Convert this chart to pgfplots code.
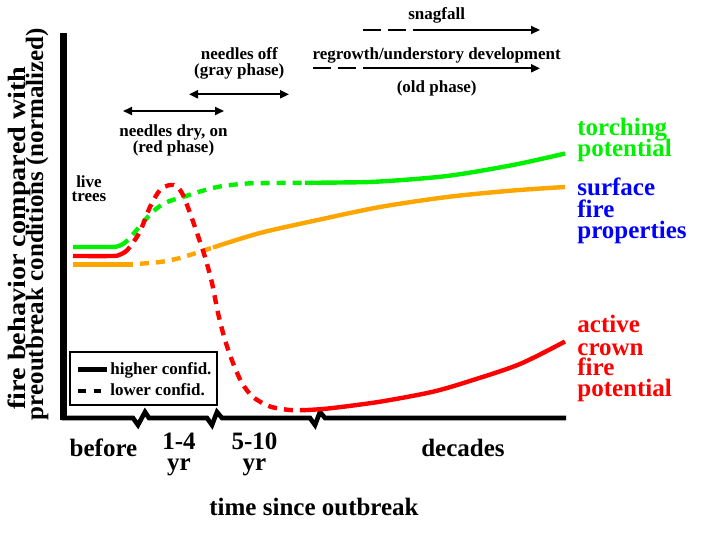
\documentclass[border=0pt]{standalone}
\usepackage{fontspec}
\setmainfont{Liberation Serif}
\usepackage{graphicx}
\usepackage{pgfplots}
\pgfplotsset{compat=1.18}
\usetikzlibrary{arrows.meta}
\definecolor{cgreen}{RGB}{0,240,0}
\definecolor{corange}{RGB}{255,165,0}
\definecolor{cred}{RGB}{255,0,0}
\definecolor{cblue}{RGB}{0,0,255}
\begin{document}
\begin{tikzpicture}[
 lbl/.style={font=\bfseries\fontsize{12.5}{14}\selectfont, inner sep=0pt},
 sml/.style={font=\bfseries\fontsize{8.5}{10}\selectfont, inner sep=0pt},
 ylab/.style={font=\bfseries\fontsize{12.5}{14}\selectfont, inner sep=0pt, rotate=90, anchor=base},
]
\begin{axis}[
 width=352.5pt, height=267pt, scale only axis,
 xmin=0, xmax=705, ymin=0, ymax=534, y dir=reverse,
 hide axis, clip=false,
 curve/.style={line width=2.2pt, smooth, line cap=butt},
 dsh/.style={dash pattern=on 4.5pt off 3.5pt},
 arr/.style={black, line width=1pt, -{Triangle[length=4.5pt,width=4pt]}},
 darr/.style={black, line width=1pt, {Triangle[length=4.5pt,width=4pt]}-{Triangle[length=4.5pt,width=4pt]}},
]
% axes
\addplot[black, line width=3.2pt, line cap=butt] coordinates {(63.3,33) (63.3,420)};
\addplot[black, line width=2.3pt, line join=miter, sharp plot] coordinates {(61.7,418) (133,418) (138,425) (145,412) (149,418) (207,418) (212,425) (217,412) (222,418) (310,418) (315,425) (320,412) (325,418) (566,418)};

% orange: surface fire properties
\addplot[curve, corange] coordinates {(73,264.3) (133,264.3)};
\addplot[curve, corange, dsh, dash phase=4.5pt] coordinates {(133,264.3) (160,262) (180,258) (200,251.7) (213,247.5)};
\addplot[curve, corange] coordinates {(213,247.5) (260,233) (320,219.5) (380,207) (447,197) (513,190.5) (565,187)};

% green: torching potential
\addplot[curve, cgreen] coordinates {(73,247) (110,247) (117,246.5) (123,244) (128,240)};
\addplot[curve, cgreen, dsh, dash phase=4.5pt] coordinates {(128,240) (135,232) (146,219) (156,209) (167,202) (183,197) (200,191.5) (220,186.5) (247,183.5) (275,183) (305,182.8)};
\addplot[curve, cgreen] coordinates {(305,182.8) (340,182.5) (380,181.5) (447,176) (513,165) (565,153.5)};

% red: active crown fire potential
\addplot[curve, cred] coordinates {(73,256) (112,256) (119,255) (125,252) (130,247)};
\addplot[curve, cred, dsh, dash phase=4.5pt] coordinates {(130,247) (140,231.5) (150,207) (160,190) (170,185) (177,186.5) (183,195) (190,213) (197,233) (205,257) (212,283) (218,313) (225,340) (233,363) (242,383) (253,397) (270,406.5) (290,410) (307,410)};
\addplot[curve, cred] coordinates {(307,410) (330,408.3) (380,401.7) (433,391.7) (473,380) (520,364) (565,341.5)};

% phase arrows
\addplot[black, line width=1pt, dash pattern=on 8.75pt off 3.75pt] coordinates {(363,30) (406,30)};
\addplot[arr] coordinates {(413,30) (540,30)};
\addplot[black, line width=1pt, dash pattern=on 9pt off 3.5pt] coordinates {(313,68.3) (357,68.3)};
\addplot[arr] coordinates {(363,68.3) (540,68.3)};
\addplot[darr] coordinates {(189,94.3) (289,94.3)};
\addplot[darr] coordinates {(123,111) (224,111)};

% legend
\draw[black, line width=1pt] (70,352) rectangle (217,405);
\addplot[black, line width=2.2pt] coordinates {(78,369.5) (107,369.5)};
\addplot[black, line width=2.2pt, dash pattern=on 3.75pt off 4pt] coordinates {(78,390.7) (103,390.7)};
\node[sml, anchor=base west] at (110,374.3) {higher confid.};
\node[sml, anchor=base west] at (110,395) {lower confid.};

% phase texts
\node[sml, anchor=base] at (436.7,20) {snagfall};
\node[sml, anchor=base] at (436.7,60) {regrowth/understory development};
\node[sml, anchor=base] at (436.7,93) {(old phase)};
\node[sml, anchor=base] at (239.3,60) {needles off};
\node[sml, anchor=base] at (239.3,76) {(gray phase)};
\node[sml, anchor=base] at (173.5,136.7) {needles dry, on};
\node[sml, anchor=base] at (173.5,153) {(red phase)};
\node[sml, anchor=base] at (89,187) {live};
\node[sml, anchor=base] at (89,201.7) {trees};

% right labels
\node[lbl, anchor=base west, text=cgreen] at (577,136) {torching};
\node[lbl, anchor=base west, text=cgreen] at (577,156.7) {potential};
\node[lbl, anchor=base west, text=cblue] at (577,196) {surface};
\node[lbl, anchor=base west, text=cblue] at (577,217.3) {fire};
\node[lbl, anchor=base west, text=cblue] at (577,238.3) {properties};
\node[lbl, anchor=base west, text=cred] at (577,332.7) {active};
\node[lbl, anchor=base west, text=cred] at (577,355) {crown};
\node[lbl, anchor=base west, text=cred] at (577,375) {fire};
\node[lbl, anchor=base west, text=cred] at (577,396) {potential};

% x categories
\node[lbl, anchor=base] at (103.5,456) {before};
\node[lbl, anchor=base] at (179,449) {1-4};
\node[lbl, anchor=base] at (179,470) {yr};
\node[lbl, anchor=base] at (254.5,449) {5-10};
\node[lbl, anchor=base] at (254.5,470) {yr};
\node[lbl, anchor=base] at (463,456) {decades};
\node[lbl, anchor=base] at (314,515) {time since outbreak};

% y label
\node[ylab] at (25,238) {\scalebox{1.13}[1]{fire behavior compared with}};
\node[ylab] at (43,224) {preoutbreak conditions (normalized)};
\end{axis}
\pgfresetboundingbox
\path (current axis.south west) rectangle (current axis.north east);
\end{tikzpicture}
\end{document}
